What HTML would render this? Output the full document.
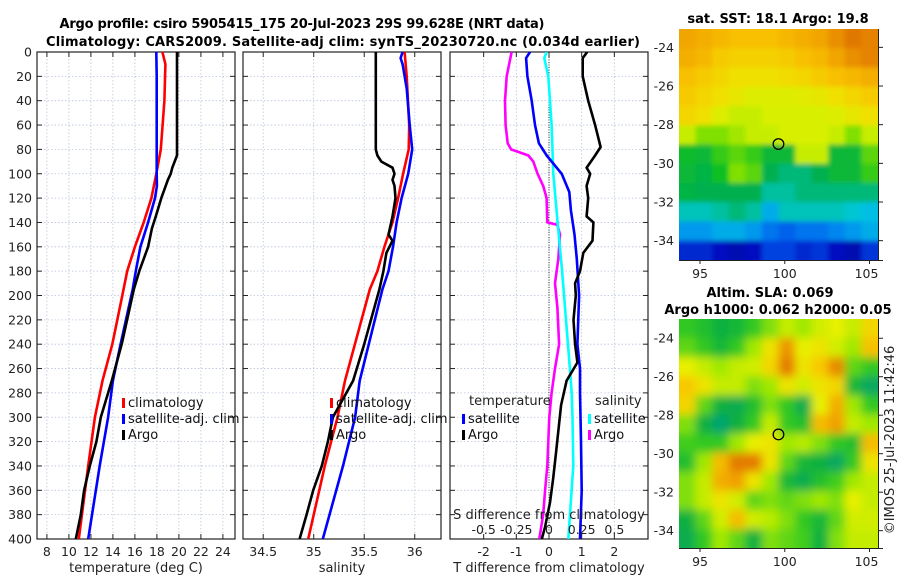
<!DOCTYPE html>
<html><head><meta charset="utf-8"><style>
body{margin:0;background:#fff;}
svg{display:block;font-family:"DejaVu Sans","Liberation Sans",sans-serif;}
</style></head><body>
<svg id="fig" width="900" height="580" viewBox="0 0 900 580" xmlns="http://www.w3.org/2000/svg">
<defs>
<clipPath id="c1"><rect x="37" y="52" width="198" height="487"/></clipPath>
<clipPath id="c2"><rect x="243" y="52" width="198" height="487"/></clipPath>
<clipPath id="c3"><rect x="450" y="52" width="198" height="487"/></clipPath>
<clipPath id="cm1"><rect x="679" y="29" width="199" height="231"/></clipPath>
<clipPath id="cm2"><rect x="679" y="319" width="199" height="229"/></clipPath>
<filter id="blur" x="-10%" y="-10%" width="120%" height="120%"><feGaussianBlur stdDeviation="4.5"/></filter>
<filter id="blur1" x="-10%" y="-10%" width="120%" height="120%"><feGaussianBlur stdDeviation="2.5"/></filter>
</defs>
<text x="302" y="28" text-anchor="middle" font-weight="bold" font-size="13" textLength="485">Argo profile: csiro 5905415_175 20-Jul-2023 29S 99.628E (NRT data)</text>
<text x="343" y="46" text-anchor="middle" font-weight="bold" font-size="13" textLength="594">Climatology: CARS2009. Satellite-adj clim: synTS_20230720.nc (0.034d earlier)</text>
<text x="778" y="23" text-anchor="middle" font-weight="bold" font-size="13">sat. SST: 18.1 Argo: 19.8</text>
<text x="770" y="297" text-anchor="middle" font-weight="bold" font-size="13">Altim. SLA: 0.069</text>
<text x="778" y="314" text-anchor="middle" font-weight="bold" font-size="13">Argo h1000: 0.062 h2000: 0.05</text>
<text transform="translate(894,440) rotate(-90)" text-anchor="middle" font-size="13" fill="#222">©IMOS 25-Jul-2023 11:42:46</text>
<g id="plots"></g>
</svg>
<script>
// ---------- data ----------
const depthTicks=[0,20,40,60,80,100,120,140,160,180,200,220,240,260,280,300,320,340,360,380,400];
const tempTicks=[8,10,12,14,16,18,20,22,24];
const salTicks=[34.5,35,35.5,36];
const salTickLabels=["34.5","35","35.5","36"];
const tdiffTicks=[-2,-1,0,1,2];
const sdiffTicks=[-0.5,-0.25,0,0.25,0.5];
const sdiffTickLabels=["-0.5","-0.25","0","0.25","0.5"];

const climTD=[0,10,40,80,100,120,140,160,180,200,240,270,300,340,400];
const climT=[18.5,18.77,18.68,18.35,17.95,17.5,16.8,16.0,15.3,14.85,13.95,13.05,12.36,11.75,10.9];
const satTD=[0,20,60,100,110,120,140,160,180,195,240,270,300,340,400];
const satT=[17.95,17.98,17.98,17.98,18.0,17.83,17.2,16.5,16.08,15.8,14.7,14.0,13.56,12.8,11.75];
const argoTD=[0,40,85,88,95,100,105,120,135,145,160,180,195,240,270,300,320,340,360,380,400];
const argoT=[19.83,19.83,19.83,19.7,19.4,19.25,19.0,18.4,17.9,17.55,17.2,16.4,15.9,14.8,13.9,12.9,12.5,11.9,11.38,11.08,10.63];

const climSD=[0,20,60,80,100,120,140,160,180,195,270,300,340,400];
const climS=[35.90,35.92,35.945,35.94,35.885,35.835,35.78,35.70,35.63,35.555,35.31,35.235,35.11,34.945];
const satSD=[0,5,10,30,60,80,100,120,140,160,180,195,270,300,340,400];
const satS=[35.88,35.86,35.88,35.92,35.95,35.975,35.935,35.87,35.82,35.785,35.74,35.68,35.455,35.41,35.29,35.09];
const argoSD=[0,80,85,90,95,100,105,110,120,135,150,155,165,180,195,240,270,300,320,340,360,380,400];
const argoS=[35.615,35.615,35.63,35.67,35.78,35.80,35.78,35.80,35.81,35.78,35.74,35.78,35.72,35.69,35.65,35.5,35.39,35.19,35.14,35.08,34.995,34.93,34.86];

const dSatTD=[0,5,20,40,60,75,85,100,115,130,150,170,200,240,260,280,320,360,400];
const dSatT=[-0.58,-0.70,-0.66,-0.53,-0.43,-0.31,-0.07,0.39,0.62,0.67,0.78,0.85,0.92,0.87,0.95,0.95,0.98,1.0,0.95];
const dArgoTD=[0,5,20,40,60,78,85,95,100,110,120,135,140,155,165,180,190,200,220,240,255,270,290,310,330,350,370,390,400];
const dArgoT=[1.17,1.03,1.03,1.2,1.41,1.58,1.41,1.15,1.26,1.15,1.2,1.15,1.36,1.33,1.05,0.95,0.8,0.82,0.75,0.8,0.87,0.54,0.37,0.29,0.21,0.13,0.03,-0.12,-0.22];
const dSatSD=[0,5,20,60,100,140,180,220,260,280,300,340,400];
const dSatS=[-0.018,-0.036,-0.005,0.02,0.033,0.066,0.10,0.13,0.16,0.174,0.18,0.186,0.148];
const dArgoSD=[0,20,40,60,75,80,85,90,100,110,120,140,142,150,170,190,210,240,260,280,300,320,340,360,380,400];
const dArgoS=[-0.286,-0.324,-0.337,-0.332,-0.316,-0.29,-0.158,-0.12,-0.087,-0.044,-0.018,-0.013,0.064,0.084,0.071,0.046,0.064,0.077,0.046,0.02,0.002,-0.005,-0.013,-0.03,-0.044,-0.074];

const lonTicks=[95,100,105];
const latTicks=[-24,-26,-28,-30,-32,-34];
const argoLon=99.628, argoLat=-29.0;
const sstGrid=[
[.74,.72,.70,.68,.68,.68,.70,.72,.74,.78,.82,.80],
[.72,.70,.66,.65,.65,.65,.66,.68,.70,.74,.78,.80],
[.68,.66,.64,.62,.62,.62,.63,.64,.66,.68,.70,.72],
[.66,.64,.62,.60,.58,.58,.58,.59,.60,.62,.64,.66],
[.64,.62,.58,.56,.56,.57,.57,.57,.57,.58,.60,.62],
[.56,.52,.52,.54,.56,.56,.57,.57,.57,.56,.52,.56],
[.45,.44,.48,.50,.48,.44,.44,.56,.56,.44,.44,.50],
[.44,.43,.46,.52,.50,.42,.40,.40,.42,.44,.44,.48],
[.43,.42,.42,.42,.42,.38,.38,.40,.40,.40,.40,.40],
[.36,.36,.38,.40,.38,.30,.36,.36,.36,.36,.34,.32],
[.28,.28,.30,.30,.28,.24,.22,.24,.24,.26,.28,.30],
[.14,.14,.10,.08,.10,.18,.18,.14,.16,.10,.08,.16]];
const slaGrid=[
[.45,.42,.38,.40,.45,.50,.55,.52,.56,.58,.55,.62],
[.48,.45,.40,.45,.52,.60,.72,.58,.60,.56,.52,.65],
[.58,.55,.52,.55,.56,.62,.76,.60,.64,.74,.48,.45],
[.64,.60,.55,.55,.50,.52,.60,.56,.60,.62,.40,.34],
[.62,.48,.38,.36,.42,.50,.45,.36,.58,.68,.52,.45],
[.50,.38,.32,.38,.45,.55,.45,.42,.66,.70,.55,.52],
[.46,.45,.45,.52,.58,.60,.52,.54,.50,.45,.42,.66],
[.42,.52,.66,.76,.76,.60,.48,.40,.38,.34,.45,.60],
[.50,.55,.68,.70,.60,.52,.40,.36,.42,.46,.52,.55],
[.50,.55,.60,.56,.48,.50,.48,.50,.52,.50,.58,.55],
[.38,.48,.56,.66,.56,.54,.50,.45,.40,.48,.56,.56],
[.36,.45,.52,.48,.38,.50,.48,.46,.38,.50,.55,.55]];

// ---------- helpers ----------
const NS="http://www.w3.org/2000/svg";
const root=document.getElementById('plots');
function mk(tag,attrs,parent){const e=document.createElementNS(NS,tag);for(const k in attrs)e.setAttribute(k,attrs[k]);(parent||root).appendChild(e);return e;}
const Y0=52,Y1=539;
const yD=d=>Y0+(d/400)*(Y1-Y0);
function lin(d0,d1,r0,r1){return v=>r0+(v-d0)/(d1-d0)*(r1-r0);}

function panel(name,x0,x1,xs,xt,xtl,clip,yLabels){
  const g=mk('g',{});
  
  
  const grid=mk('g',{stroke:'#b8c4dc','stroke-width':0.8,'stroke-dasharray':'1.5,2'},g);
  
  
  depthTicks.forEach(d=>mk('line',{x1:x0,x2:x1,y1:yD(d),y2:yD(d)},grid));
  xt.forEach(v=>mk('line',{x1:xs(v),x2:xs(v),y1:Y0,y2:Y1},grid));
  const tk=mk('g',{stroke:'#222','stroke-width':1},g);
  depthTicks.forEach(d=>{mk('line',{x1:x0,x2:x0+5,y1:yD(d),y2:yD(d)},tk);mk('line',{x1:x1,x2:x1-5,y1:yD(d),y2:yD(d)},tk);});
  xt.forEach(v=>{mk('line',{x1:xs(v),x2:xs(v),y1:Y1,y2:Y1-5},tk);mk('line',{x1:xs(v),x2:xs(v),y1:Y0,y2:Y0+5},tk);});
  const fr=mk('rect',{x:x0,y:Y0,width:x1-x0,height:Y1-Y0,fill:'none',stroke:'#222','stroke-width':1.2},g);
  
  
  xt.forEach((v,i)=>{const t=mk('text',{x:xs(v),y:556,'text-anchor':'middle','font-size':12.5,fill:'#222'},g);t.textContent=xtl[i];
    
    });
  if(yLabels){depthTicks.forEach(d=>{const t=mk('text',{x:32,y:yD(d)+4.5,'text-anchor':'end','font-size':12.5,fill:'#222'},g);t.textContent=d;
    
    });}
  return g;
}
function line(name,g,xs,vals,deps,color,clip,w){
  const pts=vals.map((v,i)=>xs(v).toFixed(1)+','+yD(deps[i]).toFixed(1)).join(' ');
  const p=mk('polyline',{points:pts,fill:'none',stroke:color,'stroke-width':w||2.6,'stroke-linejoin':'round','clip-path':'url(#'+clip+')'},g);
  
  
}
function legendEntry(g,x,y,color,label,name){
  const m=mk('rect',{x:x,y:y-9,width:3,height:10,fill:color},g);
  const t=mk('text',{x:x+6,y:y,'font-size':13,fill:'#111'},g);t.textContent=label;
  const e=mk('g',{},g);e.appendChild(m);e.appendChild(t);
  
  
}
function txt(g,x,y,s,name,anchor,size){const t=mk('text',{x:x,y:y,'text-anchor':anchor||'middle','font-size':size||13,fill:'#222'},g);t.textContent=s;
  
  return t;}

// ---------- panel 1: temperature ----------
const xT=lin(7.1,25.1,37,235);
const g1=panel('temperature-panel',37,235,xT,tempTicks,tempTicks.map(String),'c1',true);
line('temp-climatology-line',g1,xT,climT,climTD,'#f00','c1');
line('temp-satellite-line',g1,xT,satT,satTD,'#00f','c1');
line('temp-argo-line',g1,xT,argoT,argoTD,'#000','c1');
legendEntry(g1,122,407,'#f00','climatology','legend-climatology');
legendEntry(g1,122,423,'#00f','satellite-adj. clim','legend-satellite-adj');
legendEntry(g1,122,439,'#000','Argo','legend-argo');
txt(g1,136,572,'temperature (deg C)','temperature-axis-title');

// ---------- panel 2: salinity ----------
const xS=lin(34.3,36.26,243,441);
const g2=panel('salinity-panel',243,441,xS,salTicks,salTickLabels,'c2',false);
line('sal-climatology-line',g2,xS,climS,climSD,'#f00','c2');
line('sal-satellite-line',g2,xS,satS,satSD,'#00f','c2');
line('sal-argo-line',g2,xS,argoS,argoSD,'#000','c2');
legendEntry(g2,330,407,'#f00','climatology','legend-climatology-2');
legendEntry(g2,330,423,'#00f','satellite-adj. clim','legend-satellite-adj-2');
legendEntry(g2,330,439,'#000','Argo','legend-argo-2');
txt(g2,342,572,'salinity','salinity-axis-title');

// ---------- panel 3: differences ----------
const xTD=lin(-3.03,3.03,450,648);
const xSD=lin(-0.7575,0.7575,450,648);
const g3=panel('difference-panel',450,648,xTD,tdiffTicks,tdiffTicks.map(String),'c3',false);
mk('line',{x1:xTD(0),x2:xTD(0),y1:Y0,y2:Y1,stroke:'#333','stroke-width':1,'stroke-dasharray':'1,1.5'},g3);
line('sdiff-argo-line',g3,xSD,dArgoS,dArgoSD,'#f0f','c3');
line('sdiff-satellite-line',g3,xSD,dSatS,dSatSD,'#0ff','c3');
line('tdiff-satellite-line',g3,xTD,dSatT,dSatTD,'#00f','c3');
line('tdiff-argo-line',g3,xTD,dArgoT,dArgoTD,'#000','c3');
txt(g3,469,405,'temperature','legend-temperature-heading','start');
legendEntry(g3,462,423,'#00f','satellite','legend-temp-satellite');
legendEntry(g3,462,439,'#000','Argo','legend-temp-argo');
txt(g3,595,405,'salinity','legend-salinity-heading','start');
legendEntry(g3,588,423,'#0ff','satellite','legend-sal-satellite');
legendEntry(g3,588,439,'#f0f','Argo','legend-sal-argo');
txt(g3,549,519,'S difference from climatology','sdiff-axis-title');
sdiffTicks.forEach((v,i)=>txt(g3,xSD(v),534,sdiffTickLabels[i],'sdiff-tick-label','middle',12.5));
txt(g3,549,572,'T difference from climatology','tdiff-axis-title');

// ---------- maps ----------
const sstStops=[[0,'#000070'],[.1,'#0010c0'],[.2,'#0050e8'],[.27,'#0090f0'],[.33,'#00c8e0'],[.38,'#00c0a0'],[.42,'#00b050'],[.46,'#10c020'],[.52,'#80e000'],[.57,'#d8f000'],[.62,'#f0e000'],[.68,'#f8c000'],[.75,'#f0a000'],[.82,'#e07800'],[.9,'#c04800']];
const slaStops=[[.3,'#00a080'],[.38,'#10b040'],[.45,'#30c820'],[.52,'#a0e800'],[.58,'#e8f000'],[.64,'#f8c800'],[.7,'#f0a000'],[.78,'#e07000']];
function hx(h){return [1,3,5].map(i=>parseInt(h.substr(i,2),16));}
function interp(s,v){if(v<=s[0][0])return s[0][1];for(let i=1;i<s.length;i++){if(v<=s[i][0]){const t=(v-s[i-1][0])/(s[i][0]-s[i-1][0]);const a=hx(s[i-1][1]),b=hx(s[i][1]);return 'rgb('+a.map((x,k)=>Math.round(x+(b[k]-x)*t)).join(',')+')';}}return s[s.length-1][1];}
function map(name,grid,y0,y1,latTop,latBot,stops,clip,filt){
  const g=mk('g',{});
  
  
  const xL=lin(93.76,105.5,679,878), yL=lin(latTop,latBot,y0,y1);
  const cells=mk('g',{'clip-path':'url(#'+clip+')'},g);
  const inner=mk('g',{filter:'url(#'+filt+')'},cells);
  const nr=grid.length,nc=grid[0].length;
  const cw=(878-679)/nc,ch=(y1-y0)/nr;
  grid.forEach((row,r)=>row.forEach((v,c)=>{
    const ex=(c==0?-20:0), ey=(r==0?-20:0);
    const ew=(c==nc-1?20:0), eh=(r==nr-1?20:0);
    const rc=mk('rect',{x:679+c*cw+ex,y:y0+r*ch+ey,width:cw+0.6-ex+ew,height:ch+0.6-ey+eh,fill:interp(stops,v)},inner);
    
    
  }));
  const tk=mk('g',{stroke:'#222','stroke-width':1},g);
  latTicks.forEach(l=>{mk('line',{x1:878,x2:883,y1:yL(l),y2:yL(l)},tk);
    const t=mk('text',{x:674,y:yL(l)+4.5,'text-anchor':'end','font-size':12.5,fill:'#222',stroke:'none'},g);t.textContent=l;
    
    });
  lonTicks.forEach(l=>{mk('line',{x1:xL(l),x2:xL(l),y1:y1,y2:y1+4},tk);
    const t=mk('text',{x:xL(l)+(l==105?-3:0),y:y1+18,'text-anchor':'middle','font-size':12.5,fill:'#222'},g);t.textContent=l;
    
    });
  mk('line',{x1:679,x2:883,y1:y1+0.5,y2:y1+0.5,stroke:'#222','stroke-width':1},g);
  mk('line',{x1:878.5,x2:878.5,y1:y0,y2:y1,stroke:'#222','stroke-width':1},g);
  const m=mk('circle',{cx:xL(argoLon),cy:yL(argoLat),r:5.3,fill:'none',stroke:'#000','stroke-width':1.3},g);
  
  
}
map('sst-map',sstGrid,29,260,-23.05,-35.0,sstStops,'cm1','blur1');
map('sla-map',slaGrid,319,548,-23.0,-34.9,slaStops,'cm2','blur');
</script>
</body></html>
